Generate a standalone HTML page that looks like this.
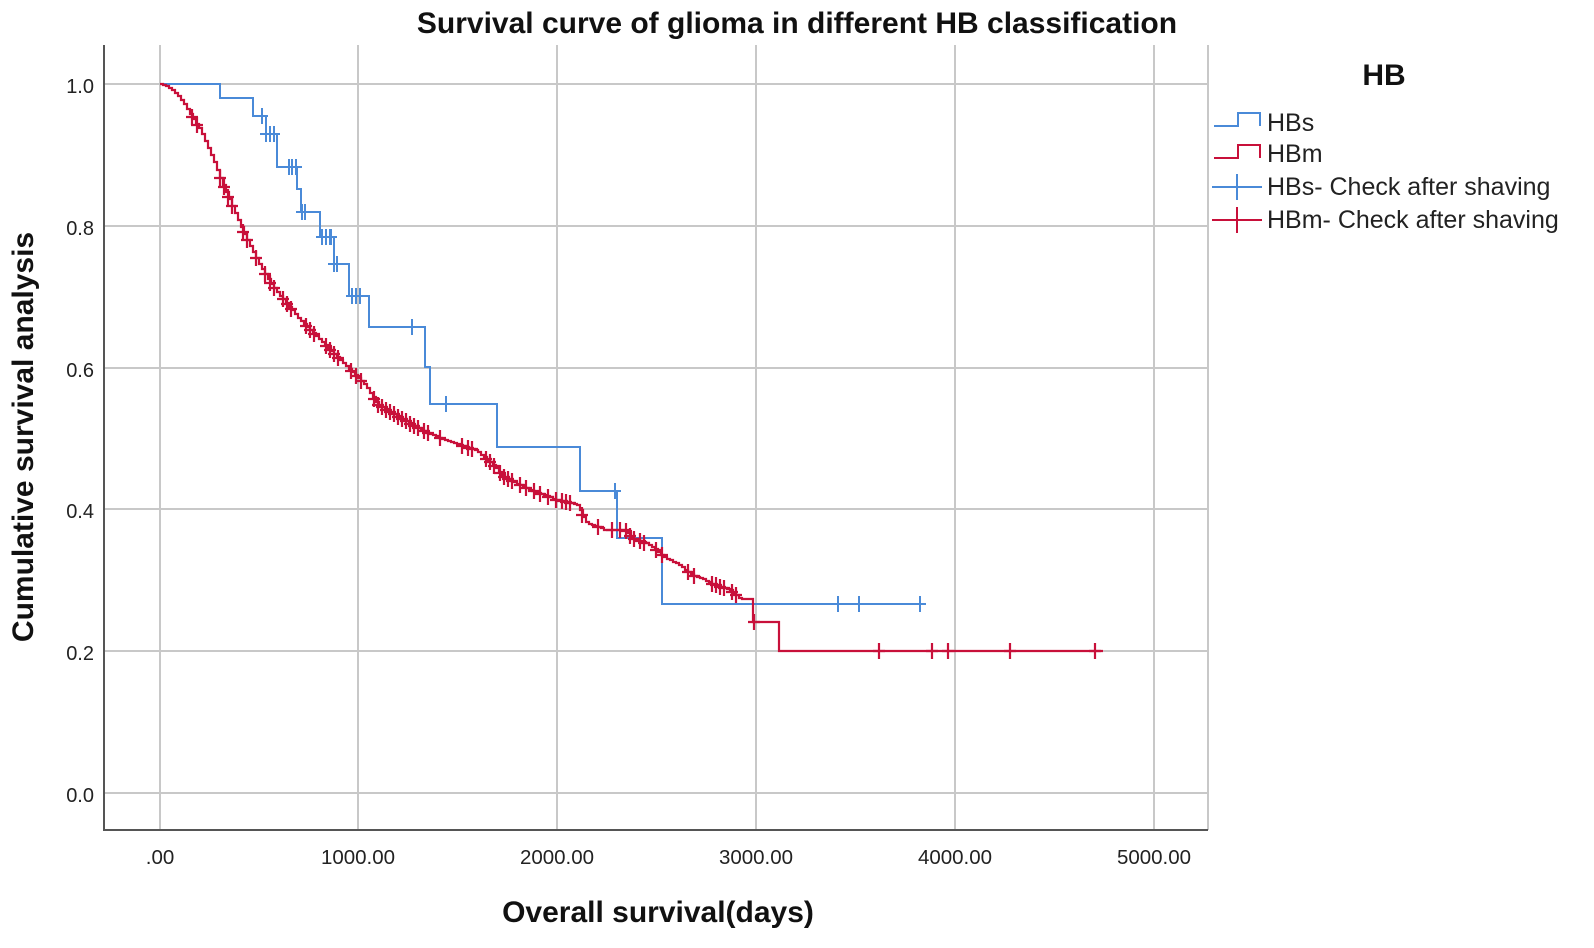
<!DOCTYPE html>
<html><head><meta charset="utf-8"><style>
body{margin:0;background:#fff;}
svg{display:block;font-family:"Liberation Sans",Arial,sans-serif;}
</style></head><body>
<svg id="s" width="1594" height="948" viewBox="0 0 1594 948" xmlns="http://www.w3.org/2000/svg">
<rect width="1594" height="948" fill="#fff"/>
<g stroke="#c8c8c8" stroke-width="2">
<line x1="104" y1="84" x2="1208" y2="84"/><line x1="104" y1="226" x2="1208" y2="226"/>
<line x1="104" y1="368" x2="1208" y2="368"/><line x1="104" y1="509" x2="1208" y2="509"/>
<line x1="104" y1="651" x2="1208" y2="651"/><line x1="104" y1="793" x2="1208" y2="793"/>
<line x1="160" y1="45" x2="160" y2="830"/><line x1="358" y1="45" x2="358" y2="830"/>
<line x1="557" y1="45" x2="557" y2="830"/><line x1="756" y1="45" x2="756" y2="830"/>
<line x1="955" y1="45" x2="955" y2="830"/><line x1="1154" y1="45" x2="1154" y2="830"/>
<line x1="1208" y1="45" x2="1208" y2="830"/>
</g>
<g stroke="#555" stroke-width="2"><line x1="104" y1="45" x2="104" y2="831"/><line x1="103" y1="830" x2="1208" y2="830"/></g>
<g font-size="20" fill="#222" text-anchor="end">
<text x="94" y="93">1.0</text><text x="94" y="235">0.8</text><text x="94" y="377">0.6</text>
<text x="94" y="518">0.4</text><text x="94" y="660">0.2</text><text x="94" y="802">0.0</text>
</g>
<g font-size="20.5" fill="#222" text-anchor="middle">
<text x="160" y="864">.00</text><text x="358" y="864">1000.00</text><text x="557" y="864">2000.00</text>
<text x="756" y="864">3000.00</text><text x="955" y="864">4000.00</text><text x="1154" y="864">5000.00</text>
</g>
<text x="797" y="33" font-size="30" font-weight="bold" text-anchor="middle" fill="#111">Survival curve of glioma in different HB classification</text>
<text x="658" y="922" font-size="30" font-weight="bold" text-anchor="middle" fill="#111">Overall survival(days)</text>
<text transform="translate(33,437) rotate(-90)" font-size="30" font-weight="bold" text-anchor="middle" fill="#111">Cumulative survival analysis</text>
<text x="1384" y="85" font-size="30" font-weight="bold" text-anchor="middle" fill="#111">HB</text>
<g font-size="25" fill="#222">
<text x="1267" y="131">HBs</text><text x="1267" y="162">HBm</text>
<text x="1267" y="195">HBs- Check after shaving</text><text x="1267" y="228">HBm- Check after shaving</text>
</g>
<g fill="none" stroke-width="2">
<path d="M1214 126H1238V113H1260V126" stroke="#4a8ad8"/>
<path d="M1214 158H1238V145H1260V158" stroke="#c8103a"/>
<path d="M1212 187H1262M1237 174V200" stroke="#4a8ad8"/>
<path d="M1212 220H1262M1237 207V233" stroke="#c8103a"/>
</g>
<g id="blue" fill="none" stroke="#4a8ad8" stroke-width="2"></g>
<g id="red" fill="none" stroke="#c8103a" stroke-width="2.2"></g>
</svg>
<script>
var NS="http://www.w3.org/2000/svg";
function add(g,d){var p=document.createElementNS(NS,"path");p.setAttribute("d",d);g.appendChild(p);}
var bs=[[160,84],[220,84],[220,98],[253,98],[253,116],[266,116],[266,134],[277,134],[277,167],[297,167],[297,189],[301,189],[301,212],[320,212],[320,237],[334,237],[334,264],[349,264],[349,296],[369,296],[369,327],[425,327],[425,367],[430,367],[430,404],[497,404],[497,447],[580,447],[580,491],[617,491],[617,538],[662,538],[662,604],[926,604]];
var bl=document.getElementById("blue");
add(bl,"M"+bs.map(function(p){return p.join(" ")}).join("L"));
function ystep(pts,x){for(var i=pts.length-1;i>=0;i--){if(x>=pts[i][0])return pts[i][1];}return pts[0][1];}
var bc=[262,266,270,274,289,292,296,302,305,322,326,330,331,334,337,352,356,360,412,446,615,838,859,920];
var d="";bc.forEach(function(x){var y=ystep(bs,x);d+="M"+(x-6)+" "+y+"H"+(x+6)+"M"+x+" "+(y-8)+"V"+(y+8);});
add(bl,d);
var rk=[[160,84],[170,88],[180,98],[190,114],[200,130],[210,152],[220,178],[232,206],[244,234],[258,262],[272,286],[286,303],[300,320],[318,338],[335,355],[350,370],[365,385],[378,405],[400,418],[425,432],[450,442],[475,450],[490,462],[505,478],[530,490],[557,500],[578,505],[585,522],[605,530],[625,530],[632,538],[650,545],[665,558],[680,565],[690,574],[705,580],[715,585],[730,590],[740,599],[753,599],[753,622],[779,622],[779,651],[1103,651]];
function yint(x){for(var i=0;i<rk.length-1;i++){if(x>=rk[i][0]&&x<=rk[i+1][0]){var a=rk[i],b=rk[i+1];if(b[0]==a[0])return b[1];return a[1]+(b[1]-a[1])*(x-a[0])/(b[0]-a[0]);}}return rk[rk.length-1][1];}
var rs=[[160,84]];for(var x=163;x<=753;x+=3){rs.push([x,Math.round(yint(x))]);}
rs.push([753,599],[753,622],[779,622],[779,651],[1103,651]);
var rd="M160 84";for(var i=1;i<rs.length;i++){rd+="H"+rs[i][0]+"V"+rs[i][1];}
var rl=document.getElementById("red");add(rl,rd);
var rc=[192,197,220,224,228,232,243,247,256,265,270,274,283,287,291,306,310,314,326,330,334,338,351,356,361,374,378,382,386,390,394,398,402,406,410,414,418,424,428,440,462,468,472,486,490,494,500,504,508,512,520,526,534,540,548,556,562,566,570,582,598,612,620,626,630,634,640,644,656,662,688,694,712,716,720,724,732,736,754,879,932,948,1010,1095];
var dd="";rc.forEach(function(x){var y=Math.round(yint(x));dd+="M"+(x-6)+" "+y+"H"+(x+6)+"M"+x+" "+(y-8)+"V"+(y+8);});
add(rl,dd);
</script>
</body></html>
